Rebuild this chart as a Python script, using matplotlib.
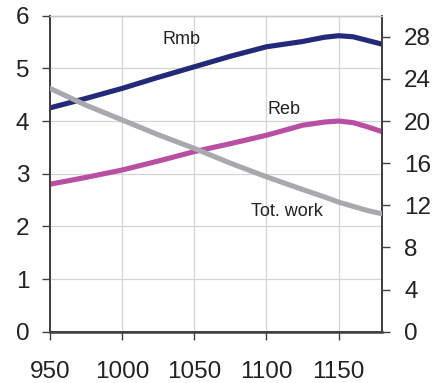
import matplotlib.pyplot as plt

plt.rcParams['font.family'] = ['Liberation Sans', 'DejaVu Sans']

# temperature steps
temp = [950, 975, 1000, 1025, 1050, 1075, 1100, 1125, 1140, 1150, 1160, 1170, 1180]

# left axis series
rmb = [4.25, 4.43, 4.62, 4.83, 5.03, 5.23, 5.41, 5.51, 5.59, 5.62, 5.60, 5.53, 5.46]
reb = [2.80, 2.93, 3.07, 3.24, 3.42, 3.57, 3.73, 3.92, 3.98, 4.00, 3.97, 3.89, 3.80]

# right axis series
tot_work = [23.1, 21.5, 20.1, 18.7, 17.4, 16.0, 14.7, 13.5, 12.8, 12.3, 11.9, 11.5, 11.2]

navy = '#232a7a'
magenta = '#b94fa2'
grey = '#a8a9ac'
dark = '#404040'

fig = plt.figure(figsize=(4.35, 3.83), dpi=100)
ax = fig.add_axes([0.115, 0.134, 0.763, 0.825])
ax2 = ax.twinx()

ax.plot(temp, rmb, color=navy, lw=3.7, solid_capstyle='round', zorder=3)
ax.plot(temp, reb, color=magenta, lw=3.7, solid_capstyle='round', zorder=3)
ax2.plot(temp, tot_work, color=grey, lw=3.7, solid_capstyle='round', zorder=3)

ax.set_xlim(950, 1180)
ax.set_ylim(0, 6)
ax2.set_ylim(0, 30)
ax.set_xticks([950, 1000, 1050, 1100, 1150])
ax.set_yticks(range(0, 7))
ax2.set_yticks(range(0, 29, 4))

ax.grid(True, color='#d4d4d4', lw=0.9)
ax.set_axisbelow(True)

for a in (ax, ax2):
    a.spines['top'].set_color('#c8c8c8')
    a.spines['top'].set_linewidth(1.0)
    for s in ('left', 'right', 'bottom'):
        a.spines[s].set_color(dark)
        a.spines[s].set_linewidth(1.3)
ax.spines['bottom'].set_linewidth(1.8)

ax.tick_params(axis='y', length=6, width=1, color=dark, pad=9,
               labelsize=17.5, labelcolor='#222222')
ax.tick_params(axis='x', length=6, width=1, color=dark, pad=15,
               labelsize=17.5, labelcolor='#222222')
ax2.tick_params(axis='y', length=6, width=1, color=dark, pad=10,
                labelsize=17.5, labelcolor='#222222')

ax.text(1041, 5.54, 'Rmb', fontsize=13, color='#222222', ha='center', va='center')
ax.text(1112, 4.21, 'Reb', fontsize=13, color='#222222', ha='center', va='center')
ax.text(1114, 2.28, 'Tot. work', fontsize=13, color='#222222', ha='center', va='center')

fig.savefig('out.png', dpi=100)
